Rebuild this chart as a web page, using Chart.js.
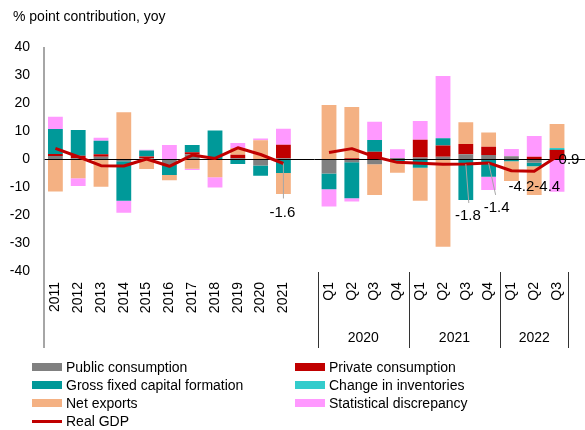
<!DOCTYPE html>
<html>
<head>
<meta charset="utf-8">
<script src="https://cdn.jsdelivr.net/npm/chart.js@4/dist/chart.umd.min.js"></script>
<style>
  body { margin: 0; background: #fff; font-family: "Liberation Sans", Arial, sans-serif; }
  #wrap { position: relative; width: 585px; height: 430px; overflow: hidden; }
  #chart { position: absolute; left: 0; top: 0; }
  .sub { position: absolute; left: 13px; top: 8px; font-size: 14px; color: #000; }
  .leg { position: absolute; font-size: 14px; color: #000; line-height: 16px; }
  .leg span.sw { position: absolute; left: 0; width: 30px; }
  .leg span.tx { position: absolute; left: 34px; top: 0; white-space: nowrap; }
</style>
</head>
<body>
<div id="wrap">
  <canvas id="chart" width="585" height="430"></canvas>
  <div class="sub">% point contribution, yoy</div>
  <div id="legend"></div>
</div>
<script>
'use strict';

// categories: annual, one empty slot, then quarters
let categories = ['2011', '2012', '2013', '2014', '2015', '2016', '2017', '2018', '2019', '2020', '2021', '',
  'Q1', 'Q2', 'Q3', 'Q4', 'Q1', 'Q2', 'Q3', 'Q4', 'Q1', 'Q2', 'Q3'];
let quarterYears = ['2020', '2021', '2022'];
let yTicks = [-40, -30, -20, -10, 0, 10, 20, 30, 40];

let publicCons   = [1.1, 0.3, 0.8, -0.8, 0.3, -1.9, 1.7, 0, 0.3, -2.3, 0.3, null,
  -5.2, -1.2, -1.9, 0.4, 0.5, 0.8, 1.7, 1.4, 1.0, -1.3, 0];
let privateCons  = [0.7, 0.9, 0.9, 0, 0.6, 0, 0.7, 0, 1.2, 0, 4.8, null,
  0, 0.3, 2.6, 0, 6.4, 4.0, 3.7, 3.0, 0, 0.8, 3.2];
let gfcf         = [8.9, 9.2, 4.8, -14.1, 2.1, -3.8, 2.6, 10.2, -1.8, -3.7, -5.0, null,
  -5.6, -12.8, 4.2, -0.7, -3.1, 2.6, -14.6, -6.3, -0.8, -1.3, 0.3];
let inventories  = [0, 0, 0, 0, 0, 0, 0, 0, 0, 0, 0, null,
  0, 0, 0, 0, 0, 0, 0, 0, 0, 0, 0.4];
let netExports   = [-11.6, -6.9, -9.9, 16.7, -3.6, -1.9, -3.5, -6.5, 2.4, 6.7, -7.5, null,
  19.3, 18.3, -11.0, -4.2, -11.8, -31.3, 7.7, 5.1, -7.1, -10.3, 8.6];
let statDisc     = [4.4, -2.7, 1.1, -4.3, 0.3, 5.0, -0.4, -3.7, 1.8, 0.6, 5.7, null,
  -6.2, -1.2, 6.5, 3.1, 6.7, 22.2, 0, -4.8, 2.6, 7.4, -11.7];
let realGdp      = [3.8, 0.8, -2.4, -2.5, 0.0, -2.6, 1.4, 0.2, 4.0, 1.6, -1.6, null,
  2.3, 3.7, 0.8, -1.2, -1.5, -1.9, -1.8, -1.4, -4.2, -4.4, 0.9];

let FONT = '"Liberation Sans", Arial, sans-serif';

let series = [
  { label: 'Public consumption', data: publicCons, color: '#808080' },
  { label: 'Private consumption', data: privateCons, color: '#C00000' },
  { label: 'Gross fixed capital formation', data: gfcf, color: '#009999' },
  { label: 'Change in inventories', data: inventories, color: '#33CCCC' },
  { label: 'Net exports', data: netExports, color: '#F4B183' },
  { label: 'Statistical discrepancy', data: statDisc, color: '#FF99FF' }
];

// which GDP points get a value label, and where (pixel offsets from the point)
let gdpLabels = [
  { i: 10, dx: -1, dy: 49, lead: 35 },
  { i: 18, dx: 2, dy: 52, lead: 39, leadDx: 3 },
  { i: 19, dx: 8, dy: 45, lead: 32, leadDx: 7 },
  { i: 20, dx: 10, dy: 16 },
  { i: 21, dx: 13, dy: 16 },
  { i: 22, dx: 12, dy: 3 }
];

let decorations = {
  id: 'decorations',
  beforeDatasetDraw(chart, args) {
    if (args.meta.type !== 'line') return;
    let ctx = chart.ctx;
    let y0 = chart.scales.y.getPixelForValue(0);
    ctx.save();
    ctx.strokeStyle = '#000';
    ctx.lineWidth = 1;
    ctx.beginPath();
    ctx.moveTo(chart.chartArea.left, Math.round(y0) + 0.5);
    ctx.lineTo(chart.width, Math.round(y0) + 0.5);
    ctx.stroke();
    ctx.restore();
  },
  afterDatasetsDraw(chart) {
    let ctx = chart.ctx;
    let x = chart.scales.x;
    let y = chart.scales.y;
    let area = chart.chartArea;
    let bottom = 348;
    ctx.save();

    // y axis line, running down through the category labels
    ctx.strokeStyle = '#888';
    ctx.lineWidth = 1.5;
    ctx.beginPath();
    ctx.moveTo(area.left, area.top);
    ctx.lineTo(area.left, bottom);
    ctx.stroke();

    // quarter group separators and year labels
    let step = x.getPixelForValue(1) - x.getPixelForValue(0);
    let seps = [12, 16, 20, 23];
    ctx.strokeStyle = '#333';
    ctx.lineWidth = 1;
    for (let s of seps) {
      let px = Math.round(x.getPixelForValue(s) - step / 2) + 0.5;
      ctx.beginPath();
      ctx.moveTo(px, area.bottom + 1);
      ctx.lineTo(px, bottom);
      ctx.stroke();
    }
    ctx.fillStyle = '#000';
    ctx.font = '14px ' + FONT;
    ctx.textAlign = 'center';
    ctx.textBaseline = 'middle';
    for (let k = 0; k < quarterYears.length; k++) {
      let a = x.getPixelForValue(seps[k]) - step / 2;
      let b = x.getPixelForValue(seps[k + 1]) - step / 2;
      ctx.fillText(quarterYears[k], (a + b) / 2, 338);
    }

    // GDP value labels with leader lines
    ctx.font = '15px ' + FONT;
    for (let l of gdpLabels) {
      let px = x.getPixelForValue(l.i);
      let py = y.getPixelForValue(realGdp[l.i]);
      if (l.lead) {
        ctx.strokeStyle = '#a6a6a6';
        ctx.lineWidth = 1;
        ctx.beginPath();
        ctx.moveTo(px, py);
        ctx.lineTo(px + (l.leadDx || 0), py + l.lead);
        ctx.stroke();
      }
      ctx.fillStyle = '#000';
      ctx.fillText(realGdp[l.i].toFixed(1), px + l.dx, py + l.dy);
    }
    ctx.restore();
  }
};

let datasets = series.map(s => ({
  type: 'bar',
  label: s.label,
  data: s.data,
  backgroundColor: s.color,
  borderWidth: 0,
  stack: 'contrib',
  order: 1,
  barPercentage: 0.65,
  categoryPercentage: 1
}));
datasets.push({
  type: 'line',
  label: 'Real GDP',
  data: realGdp,
  borderColor: '#C00000',
  backgroundColor: '#C00000',
  borderWidth: 3,
  borderJoinStyle: 'round',
  pointRadius: 0,
  tension: 0,
  spanGaps: false,
  stack: 'gdp',
  order: 0
});

new Chart(document.getElementById('chart'), {
  type: 'bar',
  data: { labels: categories, datasets: datasets },
  options: {
    responsive: false,
    animation: false,
    layout: { padding: { left: 0, right: 8, top: 47, bottom: 0 } },
    plugins: { legend: { display: false }, tooltip: { enabled: false } },
    scales: {
      x: {
        stacked: true,
        grid: { display: false, drawTicks: false },
        border: { display: false },
        ticks: {
          autoSkip: false, minRotation: 90, maxRotation: 90, padding: 11,
          color: '#000', font: { family: FONT, size: 14 }
        },
        afterFit(scale) { scale.height = 159; }
      },
      y: {
        stacked: true,
        min: -40,
        max: 40,
        grid: { display: false, drawTicks: false },
        border: { display: false },
        afterBuildTicks(scale) { scale.ticks = yTicks.map(v => ({ value: v })); },
        ticks: { padding: 14, color: '#000', font: { family: FONT, size: 14 } },
        afterFit(scale) { scale.width = 44; }
      }
    }
  },
  plugins: [decorations]
});

// two-column legend under the chart
let legendItems = [
  { label: 'Public consumption', color: '#808080', col: 0, row: 0 },
  { label: 'Private consumption', color: '#C00000', col: 1, row: 0 },
  { label: 'Gross fixed capital formation', color: '#009999', col: 0, row: 1 },
  { label: 'Change in inventories', color: '#33CCCC', col: 1, row: 1 },
  { label: 'Net exports', color: '#F4B183', col: 0, row: 2 },
  { label: 'Statistical discrepancy', color: '#FF99FF', col: 1, row: 2 },
  { label: 'Real GDP', color: '#C00000', col: 0, row: 3, line: true }
];
let legendElem = document.getElementById('legend');
for (let it of legendItems) {
  let d = document.createElement('div');
  d.className = 'leg';
  d.style.left = (it.col ? 295 : 32) + 'px';
  d.style.top = (359 + it.row * 18) + 'px';
  let sw = document.createElement('span');
  sw.className = 'sw';
  sw.style.background = it.color;
  sw.style.height = it.line ? '3px' : '8px';
  sw.style.top = it.line ? '7px' : '4px';
  let tx = document.createElement('span');
  tx.className = 'tx';
  tx.textContent = it.label;
  d.appendChild(sw);
  d.appendChild(tx);
  legendElem.appendChild(d);
}
</script>
</body>
</html>
